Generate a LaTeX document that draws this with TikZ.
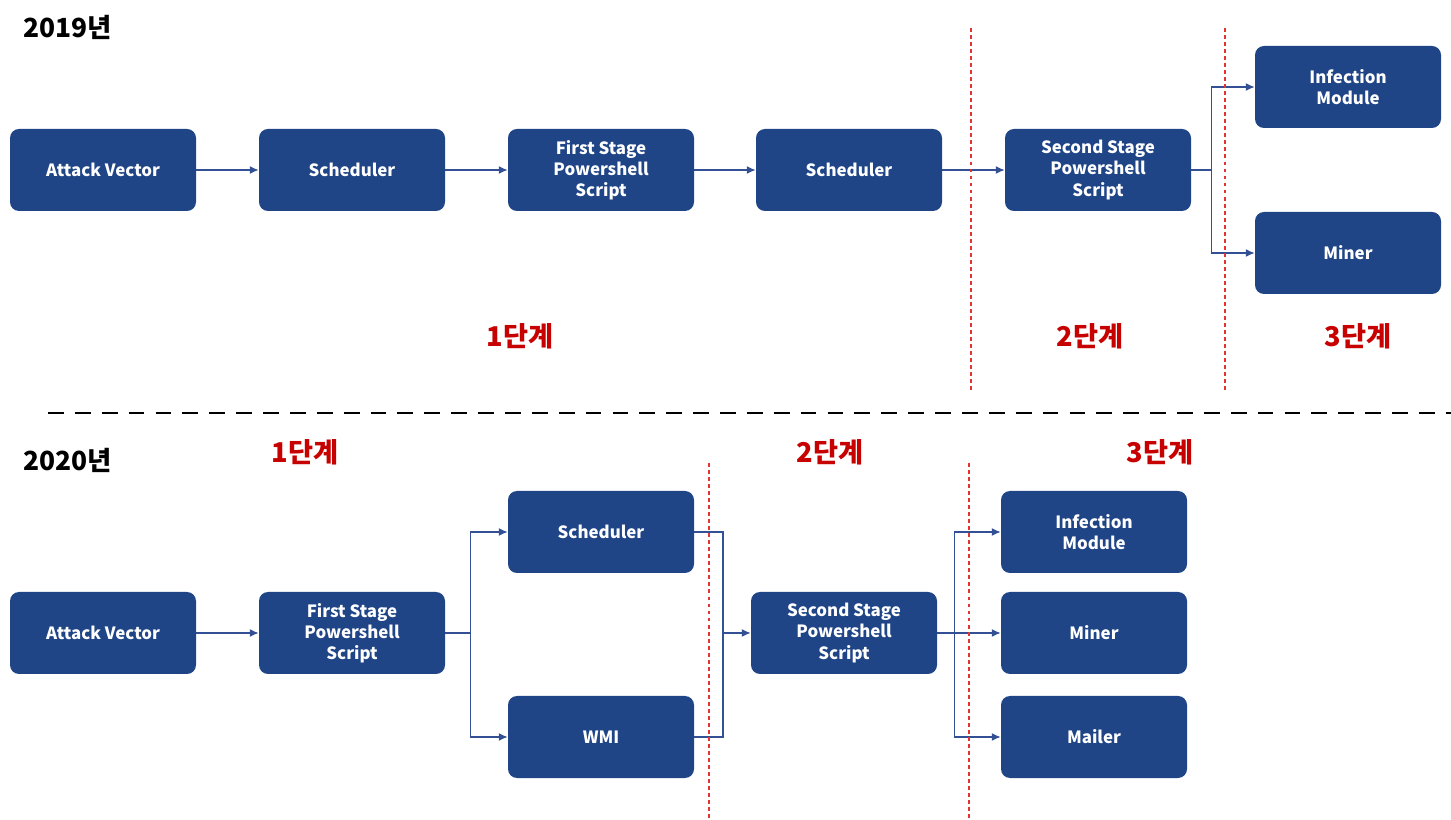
\documentclass[tikz,border=0pt]{standalone}
\usepackage{fontspec}
\setmainfont{Noto Sans CJK KR}
\usetikzlibrary{arrows.meta}
\newlength{\du}
\setlength{\du}{0.02cm}
\definecolor{boxcolor}{rgb}{0.122,0.271,0.529}
\definecolor{linkcolor}{rgb}{0.200,0.314,0.580}
\definecolor{stagecolor}{rgb}{0.780,0.000,0.000}
\definecolor{cutcolor}{rgb}{0.890,0.200,0.200}
\tikzset{
  blockbox/.style={rectangle, rounded corners=9\du, fill=boxcolor, text=white,
    minimum width=186\du, minimum height=82\du, align=center,
    font=\bfseries\fontsize{9.6}{12}\selectfont, inner sep=0pt},
  link/.style={draw=linkcolor, line width=0.7pt},
  linkarrow/.style={link, -{Latex[length=5pt,width=4.5pt]}},
  stagelabel/.style={text=stagecolor, font=\bfseries\fontsize{15.5}{17}\selectfont},
  yearlabel/.style={anchor=west, font=\bfseries\fontsize{15}{17}\selectfont},
  cutline/.style={draw=cutcolor, line width=0.6pt, dash pattern=on 2.2pt off 1.8pt}
}

\begin{document}
\begin{tikzpicture}
\pgftransformxscale{1.000000}
\pgftransformyscale{-1.000000}
\useasboundingbox (0\du,0\du) rectangle (1451\du,820\du);
% 2019
\node[yearlabel] (year1) at (17\du,27\du){2019년};
\node[blockbox] (av1) at (103\du,170\du){Attack Vector};
\node[blockbox] (sch1) at (352\du,170\du){Scheduler};
\node[blockbox] (fs1) at (601\du,170\du){First Stage\\Powershell\\Script};
\node[blockbox] (schb1) at (849\du,170\du){Scheduler};
\node[blockbox] (ss1) at (1098\du,170\du){Second Stage\\Powershell\\Script};
\node[blockbox] (inf1) at (1348\du,87\du){Infection\\Module};
\node[blockbox] (min1) at (1348\du,253\du){Miner};
\draw[linkarrow] (av1) -- (sch1);
\draw[linkarrow] (sch1) -- (fs1);
\draw[linkarrow] (fs1) -- (schb1);
\draw[linkarrow] (schb1) -- (ss1);
\draw[linkarrow] (ss1.east) -- ++(20\du,0) |- (inf1.west);
\draw[linkarrow] (ss1.east) -- ++(20\du,0) |- (min1.west);
\draw[cutline] (971\du,28\du) -- (971\du,390\du);
\draw[cutline] (1225\du,28\du) -- (1225\du,390\du);
\node[stagelabel] (st11) at (520\du,336\du){1단계};
\node[stagelabel] (st12) at (1090\du,336\du){2단계};
\node[stagelabel] (st13) at (1358\du,336\du){3단계};
% divider
\draw[line width=1.7pt, dash pattern=on 9pt off 6.3pt] (48\du,413\du) -- (1451\du,413\du);
% 2020
\node[yearlabel] (year2) at (17\du,460\du){2020년};
\node[stagelabel] (st21) at (305\du,452\du){1단계};
\node[stagelabel] (st22) at (830\du,452\du){2단계};
\node[stagelabel] (st23) at (1160\du,452\du){3단계};
\node[blockbox] (av2) at (103\du,633\du){Attack Vector};
\node[blockbox] (fs2) at (352\du,633\du){First Stage\\Powershell\\Script};
\node[blockbox] (sch2) at (601\du,532\du){Scheduler};
\node[blockbox] (wmi2) at (601\du,737\du){WMI};
\node[blockbox] (ss2) at (844\du,633\du){Second Stage\\Powershell\\Script};
\node[blockbox] (inf2) at (1094\du,532\du){Infection\\Module};
\node[blockbox] (min2) at (1094\du,633\du){Miner};
\node[blockbox] (mail2) at (1094\du,737\du){Mailer};
\coordinate (join2) at (723\du,633\du);
\draw[linkarrow] (av2) -- (fs2);
\draw[linkarrow] (fs2.east) -- ++(25\du,0) |- (sch2.west);
\draw[linkarrow] (fs2.east) -- ++(25\du,0) |- (wmi2.west);
\draw[link] (sch2.east) -| (join2);
\draw[link] (wmi2.east) -| (join2);
\draw[linkarrow] (join2) -- (ss2.west);
\draw[linkarrow] (ss2.east) -- ++(17\du,0) |- (inf2.west);
\draw[linkarrow] (ss2.east) -- (min2.west);
\draw[linkarrow] (ss2.east) -- ++(17\du,0) |- (mail2.west);
\draw[cutline] (709\du,463\du) -- (709\du,820\du);
\draw[cutline] (969\du,463\du) -- (969\du,820\du);
\end{tikzpicture}
\end{document}
